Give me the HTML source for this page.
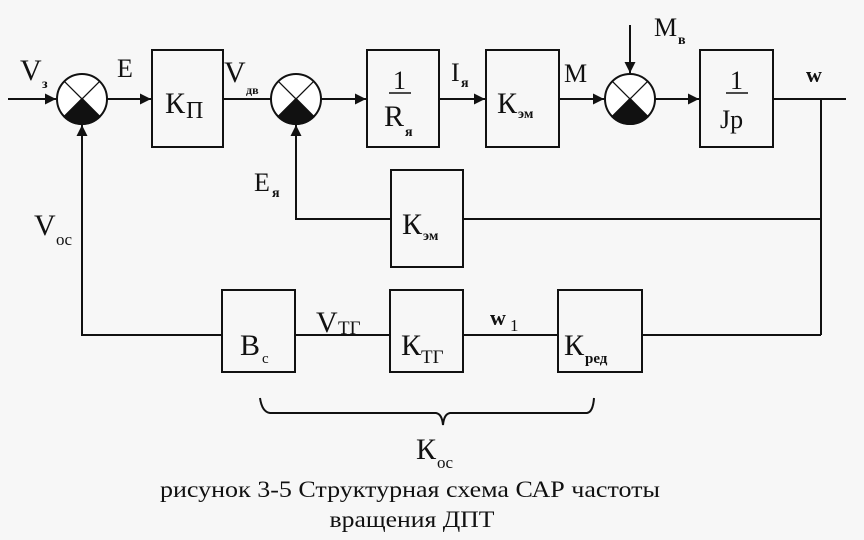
<!DOCTYPE html>
<html><head><meta charset="utf-8"><style>body{margin:0;background:#f7f7f7}svg{display:block}</style></head><body>
<svg width="864" height="540" viewBox="0 0 864 540" xmlns="http://www.w3.org/2000/svg" font-family="'Liberation Serif','DejaVu Serif',serif" fill="#111">
<defs><marker id="b" viewBox="0 0 10 10" refX="10" refY="5" markerWidth="14" markerHeight="11" markerUnits="userSpaceOnUse" orient="auto"><path d="M0,0L10,5L0,10z" fill="#111"/></marker></defs>
<g stroke="#111" stroke-width="2" fill="none">
<line x1="8" y1="99" x2="56" y2="99" marker-end="url(#b)"/>
<line x1="107" y1="99" x2="151" y2="99" marker-end="url(#b)"/>
<line x1="223" y1="99" x2="271" y2="99"/>
<line x1="321" y1="99" x2="366" y2="99" marker-end="url(#b)"/>
<line x1="439" y1="99" x2="485" y2="99" marker-end="url(#b)"/>
<line x1="559" y1="99" x2="604" y2="99" marker-end="url(#b)"/>
<line x1="655" y1="99" x2="699" y2="99" marker-end="url(#b)"/>
<line x1="773" y1="99" x2="846" y2="99"/>
<line x1="630" y1="25" x2="630" y2="73" marker-end="url(#b)"/>
<line x1="821" y1="99" x2="821" y2="335"/>
<line x1="821" y1="219" x2="463" y2="219"/>
<polyline points="391,219 296,219 296,125" marker-end="url(#b)"/>
<line x1="821" y1="335" x2="642" y2="335"/>
<line x1="558" y1="335" x2="463" y2="335"/>
<line x1="390" y1="335" x2="295" y2="335"/>
<polyline points="222,335 82,335 82,125" marker-end="url(#b)"/>
<rect x="152" y="50" width="71" height="97"/>
<rect x="367" y="50" width="72" height="97"/>
<rect x="486" y="50" width="73" height="97"/>
<rect x="700" y="50" width="73" height="97"/>
<rect x="391" y="170" width="72" height="97"/>
<rect x="222" y="290" width="73" height="82"/>
<rect x="390" y="290" width="73" height="82"/>
<rect x="558" y="290" width="84" height="82"/>
<path d="M260,398 Q262,412 270,413 L436,413 Q442,414 443,425 Q444,414 450,413 L587,413 Q593,412 594,398"/>
</g>
<g stroke="#111" stroke-width="2">
<g id="s"><circle cx="82" cy="99" r="25" fill="#fff"/><path d="M82,99 L99.7,116.7 A25,25 0 0 1 64.3,116.7 Z" fill="#111"/><line x1="64.3" y1="81.3" x2="99.7" y2="116.7" stroke-width="1.3"/><line x1="99.7" y1="81.3" x2="64.3" y2="116.7" stroke-width="1.3"/></g>
<use href="#s" x="214"/><use href="#s" x="548"/>
</g>
<g stroke="none" font-size="30">
<text x="20" y="80">V</text><text x="42" y="88" font-size="14" font-weight="bold">з</text>
<text x="117" y="77" font-size="26">E</text>
<text x="165" y="113">К</text><text x="186" y="118" font-size="24">П</text>
<text x="224" y="82">V</text><text x="246" y="94" font-size="12" font-weight="bold">дв</text>
<text x="393" y="89" font-size="26">1</text><line x1="389" y1="93" x2="411" y2="93" stroke="#111" stroke-width="1.5"/>
<text x="384" y="126">R</text><text x="405" y="136" font-size="14" font-weight="bold">я</text>
<text x="451" y="81" font-size="26">I</text><text x="461" y="87" font-size="14" font-weight="bold">я</text>
<text x="497" y="113">К</text><text x="518" y="118" font-size="14" font-weight="bold">эм</text>
<text x="564" y="82" font-size="26">М</text>
<text x="654" y="36" font-size="26">М</text><text x="678" y="44" font-size="14" font-weight="bold">в</text>
<text x="730" y="89" font-size="26">1</text><line x1="726" y1="93" x2="748" y2="93" stroke="#111" stroke-width="1.5"/>
<text x="720" y="128" font-size="26">Jp</text>
<text x="806" y="82" font-size="22" font-weight="bold">w</text>
<text x="254" y="191" font-size="26">E</text><text x="272" y="197" font-size="14" font-weight="bold">я</text>
<text x="402" y="234">К</text><text x="423" y="240" font-size="14" font-weight="bold">эм</text>
<text x="34" y="235">V</text><text x="56" y="245" font-size="17">oc</text>
<text x="240" y="355">B</text><text x="262" y="363" font-size="15">c</text>
<text x="316" y="332">V</text><text x="338" y="334" font-size="19">ТГ</text>
<text x="401" y="355">К</text><text x="421" y="363" font-size="19">ТГ</text>
<text x="490" y="325" font-size="22" font-weight="bold">w</text><text x="510" y="331" font-size="17">1</text>
<text x="564" y="355">К</text><text x="585" y="363" font-size="15" font-weight="bold">ред</text>
<text x="416" y="459">К</text><text x="437" y="468" font-size="17">oc</text>
<text x="410" y="497" font-size="23" text-anchor="middle" textLength="500" lengthAdjust="spacingAndGlyphs">рисунок 3-5 Структурная схема САР частоты</text>
<text x="412" y="527" font-size="23" text-anchor="middle" textLength="165" lengthAdjust="spacingAndGlyphs">вращения ДПТ</text>
</g>
</svg>
</body></html>
